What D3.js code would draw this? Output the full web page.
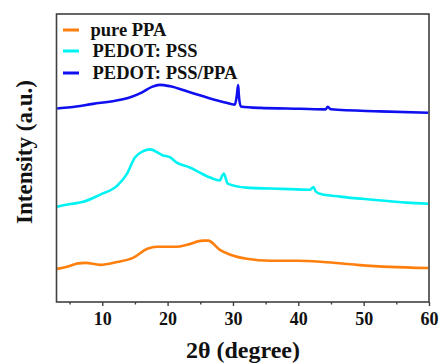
<!DOCTYPE html>
<html><head><meta charset="utf-8">
<script src="https://cdn.jsdelivr.net/npm/d3@7"></script>
<style>body{margin:0;background:#fff}svg{display:block}
text{font-family:"Liberation Serif","DejaVu Serif",serif;font-weight:bold;fill:#111}</style>
</head><body><div id="chart"></div>
<script>
const seriesNames = ["pure PPA", "PEDOT: PSS", "PEDOT: PSS/PPA"];
const seriesColors = ["#ff7f0e", "#00f2f2", "#0f0ff0"];
const xTicks = [10, 20, 30, 40, 50, 60];
const xMinorTicks = [5, 15, 25, 35, 45, 55];

const ppaTheta = [3.1,4.6,6.3,7.4,9.7,12.3,14.7,16.9,18.4,21.4,23.0,25.4,26.2,28.0,29.6,32.1,35.7,39.8,43.8,49.0,54.0,59.9];
const ppaInt   = [11.5,12.2,13.4,13.6,12.9,13.9,15.3,18.5,19.2,19.2,19.9,21.3,21.3,18.1,16.4,15.0,14.3,14.3,13.9,12.9,12.2,11.8];

const pssTheta = [3.1,5.1,7.1,9.7,12.3,13.8,15.0,16.2,17.3,19.3,20.4,21.4,23.4,26.5,28.0,28.3,28.6,28.9,29.2,32.1,35.7,38.7,41.8,42.3,42.7,43.3,46.4,51.4,56.6,59.9];
const pssInt   = [33.1,34.0,34.8,37.3,40.4,44.6,50.2,52.3,53.0,50.9,50.2,48.4,46.7,43.2,42.2,43.6,44.6,42.9,41.1,39.7,39.4,39.2,39.0,39.9,38.3,37.6,36.6,35.5,34.5,34.1];

const mixTheta = [3.1,5.1,8.6,12.0,14.3,16.1,17.6,18.8,20.4,23.4,26.5,28.8,30.3,30.6,30.8,30.9,31.2,34.1,40.3,44.2,44.5,45.0,52.5,59.9];
const mixInt   = [67.2,67.6,68.8,69.9,71.1,72.8,74.7,75.4,74.9,72.8,70.7,69.3,68.5,71.8,75.3,71.8,67.9,67.4,67.1,66.9,67.8,66.9,66.2,65.7];

const W = 441, H = 364;
const m = {left: 56.5, right: 12, top: 14, bottom: 62};
const svg = d3.select("#chart").append("svg").attr("width", W).attr("height", H);
const x = d3.scaleLinear().domain([3, 60]).range([m.left, W - m.right]);
const y = d3.scaleLinear().domain([0, 100]).range([H - m.bottom, m.top]);

const data = [
  ppaTheta.map((t, i) => [t, ppaInt[i]]),
  pssTheta.map((t, i) => [t, pssInt[i]]),
  mixTheta.map((t, i) => [t, mixInt[i]])
];
const line = d3.line().x(d => x(d[0])).y(d => y(d[1])).curve(d3.curveMonotoneX);
svg.append("g").selectAll("path").data(data).join("path")
  .attr("d", line).attr("fill", "none")
  .attr("stroke", (d, i) => seriesColors[i]).attr("stroke-width", 2.6)
  .attr("stroke-linejoin", "round");

// frame
svg.append("rect").attr("x", x(3)).attr("y", y(100))
  .attr("width", x(60) - x(3)).attr("height", y(0) - y(100))
  .attr("fill", "none").attr("stroke", "#404040").attr("stroke-width", 1.6);

// x axis
const xa = svg.append("g").attr("transform", `translate(0,${y(0)})`)
  .call(d3.axisBottom(x).tickValues(xTicks).tickSize(4).tickPadding(6).tickFormat(d3.format("d")));
xa.select(".domain").remove();
xa.selectAll("line").attr("stroke", "#404040").attr("stroke-width", 1.4);
xa.selectAll("text").attr("font-family", null).attr("font-size", 18).attr("fill", null);
svg.append("g").attr("transform", `translate(0,${y(0)})`)
  .call(d3.axisBottom(x).tickValues(xMinorTicks).tickSize(2.5).tickFormat(""))
  .call(g => g.select(".domain").remove())
  .selectAll("line").attr("stroke", "#404040").attr("stroke-width", 1.4);

// titles
svg.append("text").attr("x", 243).attr("y", 358)
  .attr("text-anchor", "middle").attr("font-size", 24).text("2θ (degree)");
svg.append("text").attr("transform", `translate(32,152) rotate(-90)`)
  .attr("text-anchor", "middle").attr("font-size", 23).text("Intensity (a.u.)");

// legend
const lg = svg.append("g");
const rows = [30, 51, 73];
const textX = [90.5, 92.5, 92.5];
seriesNames.forEach((n, i) => {
  lg.append("line").attr("x1", 63).attr("x2", 79).attr("y1", rows[i]).attr("y2", rows[i])
    .attr("stroke", seriesColors[i]).attr("stroke-width", 3);
  lg.append("text").attr("x", textX[i]).attr("y", rows[i] + 6)
    .attr("font-size", 18.5).text(n);
});
</script></body></html>
